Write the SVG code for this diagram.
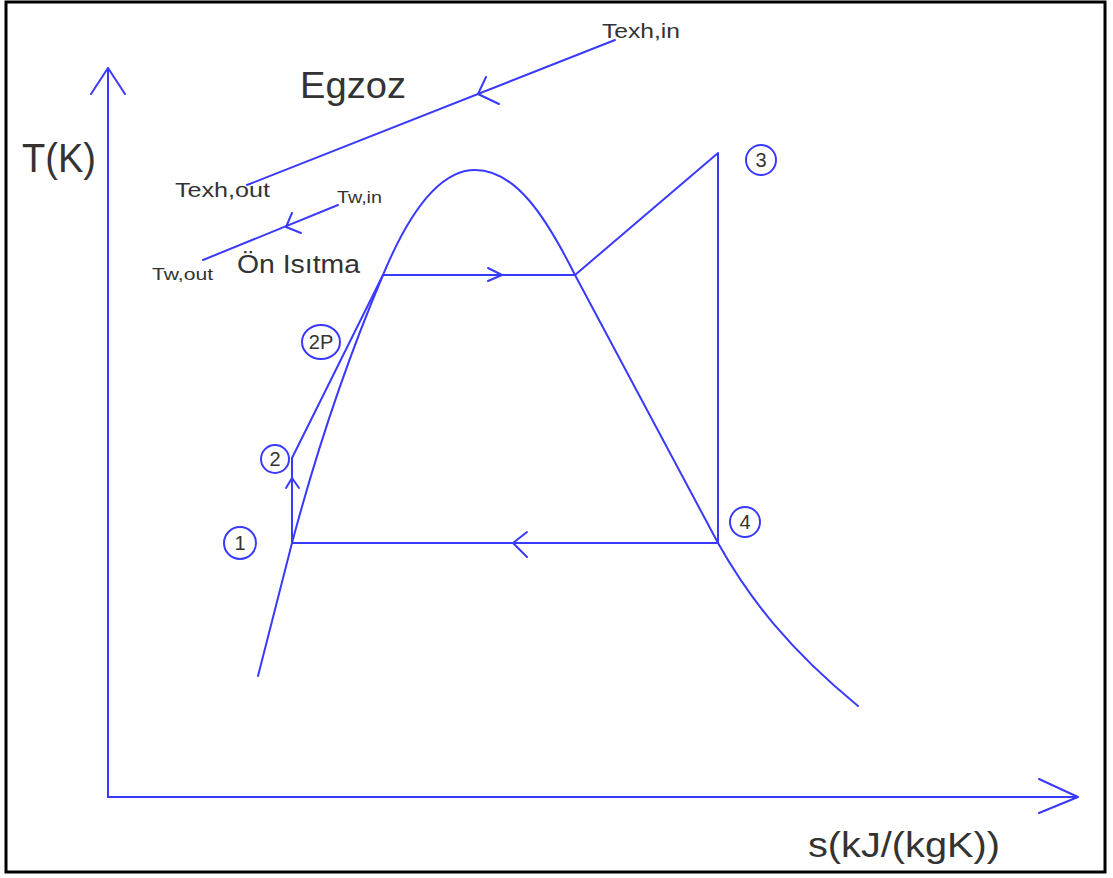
<svg xmlns="http://www.w3.org/2000/svg" width="1113" height="878" viewBox="0 0 1113 878">
<style>
.ln{fill:none;stroke:#3a3aff;stroke-width:2;stroke-linejoin:round;stroke-linecap:round}
.c{fill:#fff;stroke:#3a3aff;stroke-width:2}
.t{font-family:"Liberation Sans",Arial,sans-serif;fill:#333}
.n{font-family:"Liberation Sans",Arial,sans-serif;fill:#333;font-size:20px;text-anchor:middle}
</style>
<rect x="0" y="0" width="1113" height="878" fill="#fff"/>
<rect x="6" y="2" width="1099" height="870" fill="none" stroke="#000" stroke-width="3"/>
<g id="axes">
<path class="ln" d="M108,797 L108,68 M91,94 L108,68 L125,94"/>
<path class="ln" d="M108,797 L1078,797 M1039,779 L1078,797 L1039,813"/>
<text class="t" x="22" y="172" font-size="40" textLength="74" lengthAdjust="spacingAndGlyphs">T(K)</text>
<text class="t" x="808" y="857" font-size="35" textLength="192" lengthAdjust="spacingAndGlyphs">s(kJ/(kgK))</text>
</g>
<g id="dome">
<path class="ln" d="M258,676 L292,543 Q330,400 383,275 C410,210 440,170 475,170 C515,170 545,215 575,275 Q650,415 718,543 C750,600 790,650 858,706"/>
</g>
<g id="connectors">
<path class="ln" d="M292,543 L292,458"/>
<path class="ln" d="M286,488 L292,478 L299,488"/>
<path class="ln" d="M292,458 L383,275"/>
<path class="ln" d="M383,275 L575,275"/>
<path class="ln" d="M488,268 L502,275 L488,281"/>
<path class="ln" d="M575,275 L718,153 L718,543 L292,543"/>
<path class="ln" d="M527,532 L513,543 L527,557"/>
<path class="ln" d="M615,40 L247,185"/>
<path class="ln" d="M486,77 L478,94 L499,104"/>
<path class="ln" d="M338,205 L203,260"/>
<path class="ln" d="M292,213 L286,227 L301,233"/>
</g>
<g id="labels">
<text class="t" x="602" y="38" font-size="20" textLength="78" lengthAdjust="spacingAndGlyphs">Texh,in</text>
<text class="t" x="300" y="98" font-size="36" textLength="106" lengthAdjust="spacingAndGlyphs">Egzoz</text>
<text class="t" x="175" y="197" font-size="20" textLength="95" lengthAdjust="spacingAndGlyphs">Texh,out</text>
<text class="t" x="337" y="203" font-size="16" textLength="45" lengthAdjust="spacingAndGlyphs">Tw,in</text>
<text class="t" x="152" y="280" font-size="16" textLength="61" lengthAdjust="spacingAndGlyphs">Tw,out</text>
<text class="t" x="237" y="273" font-size="26" textLength="123" lengthAdjust="spacingAndGlyphs">Ön Isıtma</text>
</g>
<g id="state1"><circle class="c" cx="240" cy="543" r="16"/><text class="n" x="240" y="550">1</text></g>
<g id="state2"><circle class="c" cx="275" cy="459" r="14"/><text class="n" x="275" y="466">2</text></g>
<g id="state2P"><ellipse class="c" cx="321" cy="342" rx="19" ry="17"/><text class="n" x="321" y="349">2P</text></g>
<g id="state3"><circle class="c" cx="761" cy="160" r="15"/><text class="n" x="761" y="167">3</text></g>
<g id="state4"><circle class="c" cx="745" cy="522" r="15"/><text class="n" x="745" y="529">4</text></g>
</svg>
